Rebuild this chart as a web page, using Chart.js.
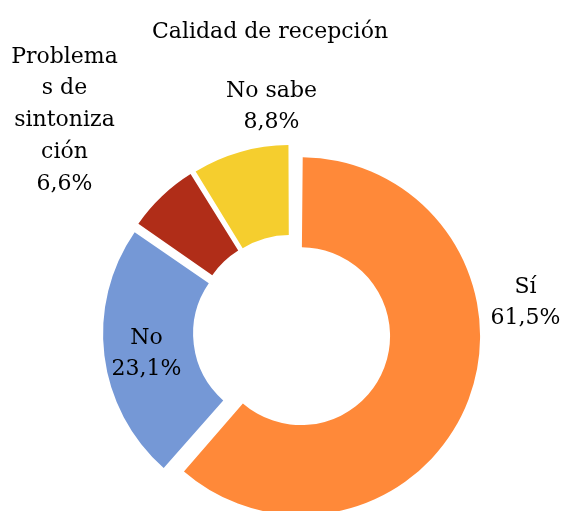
<!DOCTYPE html>
<html>
<head>
<meta charset="utf-8">
<script src="https://cdn.jsdelivr.net/npm/chart.js@4/dist/chart.umd.min.js"></script>
<style>
  html, body { margin: 0; padding: 0; background: #fff; }
  #wrap { width: 565px; height: 511px; }
</style>
</head>
<body>
<div id="wrap"><canvas id="myChart" width="565" height="511"></canvas></div>
<script>
const title = 'Calidad de recepción';
const categories = ['Sí', 'No', 'Problemas de sintonización', 'No sabe'];
const values = [61.5, 23.1, 6.6, 8.8];
// how the labels wrap in the picture
const labelLines = [
    ['Sí'],
    ['No'],
    ['Problema', 's de', 'sintoniza', 'ción'],
    ['No sabe']
];
const colors = ['rgb(255, 137, 57)', 'rgb(117, 152, 214)', 'rgb(176, 45, 24)', 'rgb(245, 206, 46)'];
const explode = [41, 38, 36, 35];

// label block position relative to the chart centre (first baseline)
const labelShift = [[234, -40], [-145, 11], [-227, -270], [-20, -236]];
const FONT = '22px "DejaVu Serif"';
const LINE = 31.8;

function fmt(v) {
    return v.toFixed(1).replace('.', ',') + '%';
}

// chart.js grows small exploded arcs a bit, take that back so all share one radius
const evenRadius = {
    id: 'evenRadius',
    afterDatasetsUpdate(chart) {
        const meta = chart.getDatasetMeta(0);
        meta.data.forEach((arc, i) => {
            const fix = 1 - Math.sin(Math.min(Math.PI, arc.circumference));
            const grow = explode[i] / 4 * fix;
            arc.outerRadius -= grow;
            arc.innerRadius -= grow;
        });
    }
};

const labelPlugin = {
    id: 'labels',
    afterDraw(chart) {
        const ctx = chart.ctx;
        ctx.save();
        ctx.font = FONT;
        ctx.fillStyle = '#000';
        ctx.textAlign = 'center';
        ctx.textBaseline = 'alphabetic';
        ctx.fillText(title, 270, 38);
        const meta = chart.getDatasetMeta(0);
        meta.data.forEach((arc, i) => {
            const c = arc.getProps(['x', 'y'], true);
            const lines = labelLines[i].concat([fmt(values[i])]);
            const x = c.x + labelShift[i][0];
            let y = c.y + labelShift[i][1];
            lines.forEach(t => {
                ctx.fillText(t, x, y);
                y += LINE;
            });
        });
        ctx.restore();
    }
};

const data = {
    labels: categories,
    datasets: [{
        data: values,
        backgroundColor: colors,
        borderWidth: 0,
        offset: explode,
        clip: false
    }]
};

const config = {
    type: 'doughnut',
    data: data,
    options: {
        responsive: false,
        animation: false,
        cutout: '49.7%',
        radius: 179,
        layout: {
            padding: { left: 18, right: 0, top: 154, bottom: 0 }
        },
        plugins: {
            legend: { display: false },
            title: { display: false },
            tooltip: { enabled: false }
        }
    },
    plugins: [evenRadius, labelPlugin]
};

let myChart = new Chart(document.getElementById('myChart'), config);
</script>
</body>
</html>
